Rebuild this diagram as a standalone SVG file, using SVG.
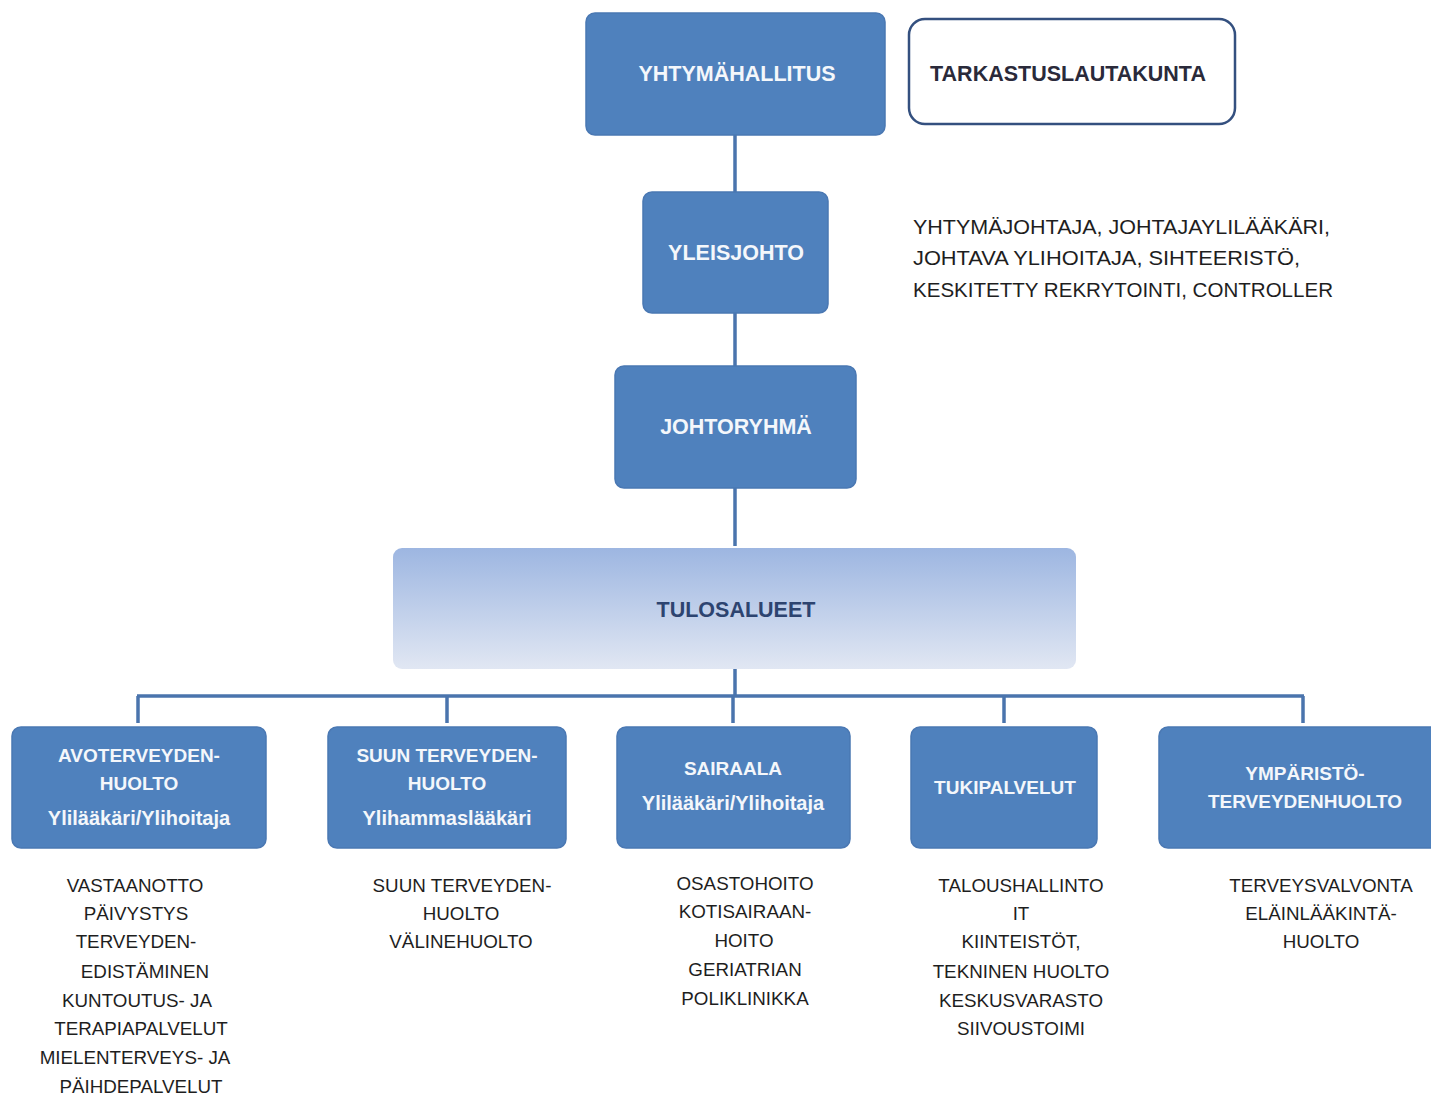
<svg xmlns="http://www.w3.org/2000/svg" width="1431" height="1097" viewBox="0 0 1431 1097">
<style>
.box{fill:#4f81bd;stroke:#4a78b3;stroke-width:1.5}
.bt{font-family:"Liberation Sans",Arial,sans-serif;font-weight:bold;font-size:21.5px;fill:#f4f7fb;text-anchor:middle}
.st{font-family:"Liberation Sans",Arial,sans-serif;font-weight:bold;font-size:19px;fill:#f4f7fb;text-anchor:middle}
.sl{font-size:20px}
.dt{font-family:"Liberation Sans",Arial,sans-serif;font-size:18.8px;fill:#1e1e1e;text-anchor:middle}
.rt{font-family:"Liberation Sans",Arial,sans-serif;font-size:20px;fill:#1e1e1e}
.ln{stroke:#4a74ad;stroke-width:3.5;fill:none}
</style>
<defs>
<linearGradient id="g" x1="0" y1="0" x2="0" y2="1">
<stop offset="0" stop-color="#9db6e1"/>
<stop offset="1" stop-color="#e1e7f3"/>
</linearGradient>
</defs>
<rect width="1431" height="1097" fill="#ffffff"/>
<g id="connectors">
<line class="ln" x1="735" y1="135" x2="735" y2="192"/>
<line class="ln" x1="735" y1="313" x2="735" y2="366"/>
<line class="ln" x1="735" y1="488" x2="735" y2="546"/>
<line class="ln" x1="735" y1="669" x2="735" y2="696"/>
<line class="ln" x1="137" y1="696" x2="1304" y2="696"/>
<line class="ln" x1="138" y1="696" x2="138" y2="723"/>
<line class="ln" x1="447" y1="696" x2="447" y2="723"/>
<line class="ln" x1="733" y1="696" x2="733" y2="723"/>
<line class="ln" x1="1004" y1="696" x2="1004" y2="723"/>
<line class="ln" x1="1303" y1="696" x2="1303" y2="723"/>
</g>
<g id="yhtymahallitus">
<rect class="box" x="586" y="13" width="299" height="122" rx="9"/>
<text class="bt" x="737" y="81">YHTYMÄHALLITUS</text>
</g>
<g id="tarkastuslautakunta">
<rect x="909" y="19" width="326" height="105" rx="16" fill="#ffffff" stroke="#34507f" stroke-width="2.5"/>
<text class="bt" x="1068" y="81" style="fill:#2a2a3a">TARKASTUSLAUTAKUNTA</text>
</g>
<g id="yleisjohto">
<rect class="box" x="643" y="192" width="185" height="121" rx="9"/>
<text class="bt" x="736" y="260">YLEISJOHTO</text>
</g>
<g id="yleisjohto-info">
<text class="rt" x="913" y="234" textLength="417" lengthAdjust="spacingAndGlyphs">YHTYMÄJOHTAJA,  JOHTAJAYLILÄÄKÄRI,</text>
<text class="rt" x="913" y="265" textLength="387" lengthAdjust="spacingAndGlyphs">JOHTAVA YLIHOITAJA, SIHTEERISTÖ,</text>
<text class="rt" x="913" y="297" textLength="420" lengthAdjust="spacingAndGlyphs">KESKITETTY REKRYTOINTI, CONTROLLER</text>
</g>
<g id="johtoryhma">
<rect class="box" x="615" y="366" width="241" height="122" rx="9"/>
<text class="bt" x="736" y="434">JOHTORYHMÄ</text>
</g>
<g id="tulosalueet">
<rect x="393" y="548" width="683" height="121" rx="9" fill="url(#g)"/>
<text class="bt" x="736" y="617" style="fill:#2d4470">TULOSALUEET</text>
</g>
<g id="avoterveydenhuolto">
<rect class="box" x="12" y="727" width="254" height="121" rx="9"/>
<text class="st" x="139" y="762">AVOTERVEYDEN-</text>
<text class="st" x="139" y="790">HUOLTO</text>
<text class="st sl" x="139" y="825">Ylilääkäri/Ylihoitaja</text>
<text class="dt" x="135" y="892">VASTAANOTTO</text>
<text class="dt" x="136" y="920">PÄIVYSTYS</text>
<text class="dt" x="136" y="948">TERVEYDEN-</text>
<text class="dt" x="145" y="978">EDISTÄMINEN</text>
<text class="dt" x="137" y="1007">KUNTOUTUS-  JA</text>
<text class="dt" x="141" y="1035">TERAPIAPALVELUT</text>
<text class="dt" x="135" y="1064">MIELENTERVEYS-   JA</text>
<text class="dt" x="141" y="1093">PÄIHDEPALVELUT</text>
</g>
<g id="suun-terveydenhuolto">
<rect class="box" x="328" y="727" width="238" height="121" rx="9"/>
<text class="st" x="447" y="762">SUUN TERVEYDEN-</text>
<text class="st" x="447" y="790">HUOLTO</text>
<text class="st sl" x="447" y="825">Ylihammaslääkäri</text>
<text class="dt" x="462" y="892">SUUN TERVEYDEN-</text>
<text class="dt" x="461" y="920">HUOLTO</text>
<text class="dt" x="461" y="948">VÄLINEHUOLTO</text>
</g>
<g id="sairaala">
<rect class="box" x="617" y="727" width="233" height="121" rx="9"/>
<text class="st" x="733" y="775">SAIRAALA</text>
<text class="st sl" x="733" y="810">Ylilääkäri/Ylihoitaja</text>
<text class="dt" x="745" y="890">OSASTOHOITO</text>
<text class="dt" x="745" y="918">KOTISAIRAAN-</text>
<text class="dt" x="744" y="947">HOITO</text>
<text class="dt" x="745" y="976">GERIATRIAN</text>
<text class="dt" x="745" y="1005">POLIKLINIKKA</text>
</g>
<g id="tukipalvelut">
<rect class="box" x="911" y="727" width="186" height="121" rx="9"/>
<text class="st" x="1005" y="794">TUKIPALVELUT</text>
<text class="dt" x="1021" y="892">TALOUSHALLINTO</text>
<text class="dt" x="1021" y="920">IT</text>
<text class="dt" x="1021" y="948">KIINTEISTÖT,</text>
<text class="dt" x="1021" y="978">TEKNINEN  HUOLTO</text>
<text class="dt" x="1021" y="1007">KESKUSVARASTO</text>
<text class="dt" x="1021" y="1035">SIIVOUSTOIMI</text>
</g>
<g id="ymparistoterveydenhuolto">
<rect class="box" x="1159" y="727" width="280" height="121" rx="9"/>
<text class="st" x="1305" y="780">YMPÄRISTÖ-</text>
<text class="st" x="1305" y="808">TERVEYDENHUOLTO</text>
<text class="dt" x="1321" y="892">TERVEYSVALVONTA</text>
<text class="dt" x="1321" y="920">ELÄINLÄÄKINTÄ-</text>
<text class="dt" x="1321" y="948">HUOLTO</text>
</g>
</svg>
